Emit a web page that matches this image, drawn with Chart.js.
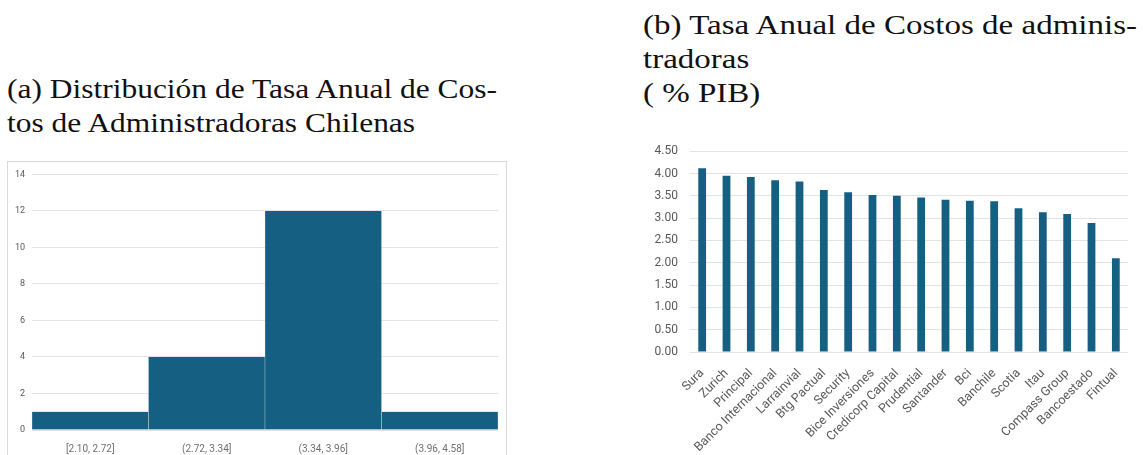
<!DOCTYPE html>
<html>
<head>
<meta charset="utf-8">
<script src="https://cdn.jsdelivr.net/npm/chart.js@4.4.0/dist/chart.umd.min.js"></script>
<style>
  body { margin: 0; background: #fff; width: 1143px; height: 455px; overflow: hidden; position: relative; }
  .cap { position: absolute; font-family: "Liberation Serif", serif; font-size: 28px; line-height: 34px; color: #111; white-space: nowrap; }
  .cap span { display: block; transform-origin: 0 0; width: max-content; }
  #capA { left: 7px; top: 72px; }
  #capB { left: 643px; top: 8px; }
  #boxA { position: absolute; left: 7px; top: 161px; width: 498px; height: 300px; border: 1px solid #d9d9d9; background: #fff; }
  #histo { position: absolute; left: 0; top: 0; }
  #barras { position: absolute; left: 630px; top: 132px; }
</style>
</head>
<body>
<div class="cap" id="capA" data-ancho="490"><span>(a) Distribución de Tasa Anual de Cos-</span><span>tos de Administradoras Chilenas</span></div>
<div class="cap" id="capB" data-ancho="494"><span>(b) Tasa Anual de Costos de adminis-</span><span>tradoras</span><span>( % PIB)</span></div>
<div id="boxA"><canvas id="histo" width="498" height="293"></canvas></div>
<canvas id="barras" width="513" height="323"></canvas>
<script>
// histograma de tasas (cuantas administradoras caen en cada rango)
var rangos = ['[2.10, 2.72]', '(2.72, 3.34]', '(3.34, 3.96]', '(3.96, 4.58]'];
var frecuencias = [1, 4, 12, 1];

// tasa anual de costos por administradora
var administradoras = ['Sura', 'Zurich', 'Principal', 'Banco Internacional', 'Larrainvial',
  'Btg Pactual', 'Security', 'Bice Inversiones', 'Credicorp Capital', 'Prudential',
  'Santander', 'Bci', 'Banchile', 'Scotia', 'Itau', 'Compass Group', 'Bancoestado', 'Fintual'];
var tasas = [4.12, 3.95, 3.92, 3.85, 3.82, 3.63, 3.58, 3.52, 3.50, 3.46,
  3.41, 3.39, 3.38, 3.22, 3.13, 3.09, 2.89, 2.10];

var azul = '#156082';
var gris = '#595959';
var grilla = '#e3e3e3';

// estira los titulos para que la primera linea tenga el ancho pedido
document.querySelectorAll('.cap').forEach(function(cap) {
  var lineas = cap.querySelectorAll('span');
  var k = Number(cap.dataset.ancho) / lineas[0].getBoundingClientRect().width;
  lineas.forEach(function(l) { l.style.transform = 'scaleX(' + k + ')'; });
});

Chart.defaults.font.family = 'Roboto, "Liberation Sans", sans-serif';
Chart.defaults.color = gris;

new Chart(document.getElementById('histo').getContext('2d'), {
  type: 'bar',
  data: {
    labels: rangos,
    datasets: [{
      data: frecuencias,
      backgroundColor: azul,
      borderColor: '#c8d6df',
      borderWidth: { left: 0.5, right: 0.5, top: 0, bottom: 0 },
      borderSkipped: false,
      barPercentage: 1,
      categoryPercentage: 1
    }]
  },
  options: {
    responsive: false,
    animation: false,
    layout: { padding: { top: 12, right: 8, left: 0, bottom: 0 } },
    plugins: { legend: { display: false }, tooltip: { enabled: false } },
    scales: {
      x: {
        grid: { display: false },
        border: { display: false },
        ticks: { font: { size: 10 }, padding: 5, color: '#707070' },
        afterFit: function(s) { s.height = 25; }
      },
      y: {
        min: 0, max: 14,
        ticks: { stepSize: 2, font: { size: 9 }, padding: 7 },
        grid: { color: grilla, drawTicks: false },
        border: { display: false },
        afterFit: function(s) { s.width = 24; }
      }
    }
  }
});

new Chart(document.getElementById('barras').getContext('2d'), {
  type: 'bar',
  data: {
    labels: administradoras,
    datasets: [{
      data: tasas,
      backgroundColor: azul,
      barPercentage: 0.32,
      categoryPercentage: 1
    }]
  },
  options: {
    responsive: false,
    animation: false,
    layout: { padding: { top: 2, right: 15, left: 0, bottom: 0 } },
    plugins: { legend: { display: false }, tooltip: { enabled: false } },
    scales: {
      x: {
        grid: { display: false },
        border: { display: false },
        ticks: { font: { size: 12.5 }, minRotation: 45, maxRotation: 45, padding: 6, autoSkip: false },
        afterFit: function(s) { s.height = 103; }
      },
      y: {
        min: 0, max: 4.5,
        ticks: {
          stepSize: 0.5, font: { size: 12 }, padding: 12,
          callback: function(v) { return v.toFixed(2); }
        },
        grid: { color: grilla, drawTicks: false },
        border: { display: false },
        afterFit: function(s) { s.width = 60; }
      }
    }
  }
});
</script>
</body>
</html>
